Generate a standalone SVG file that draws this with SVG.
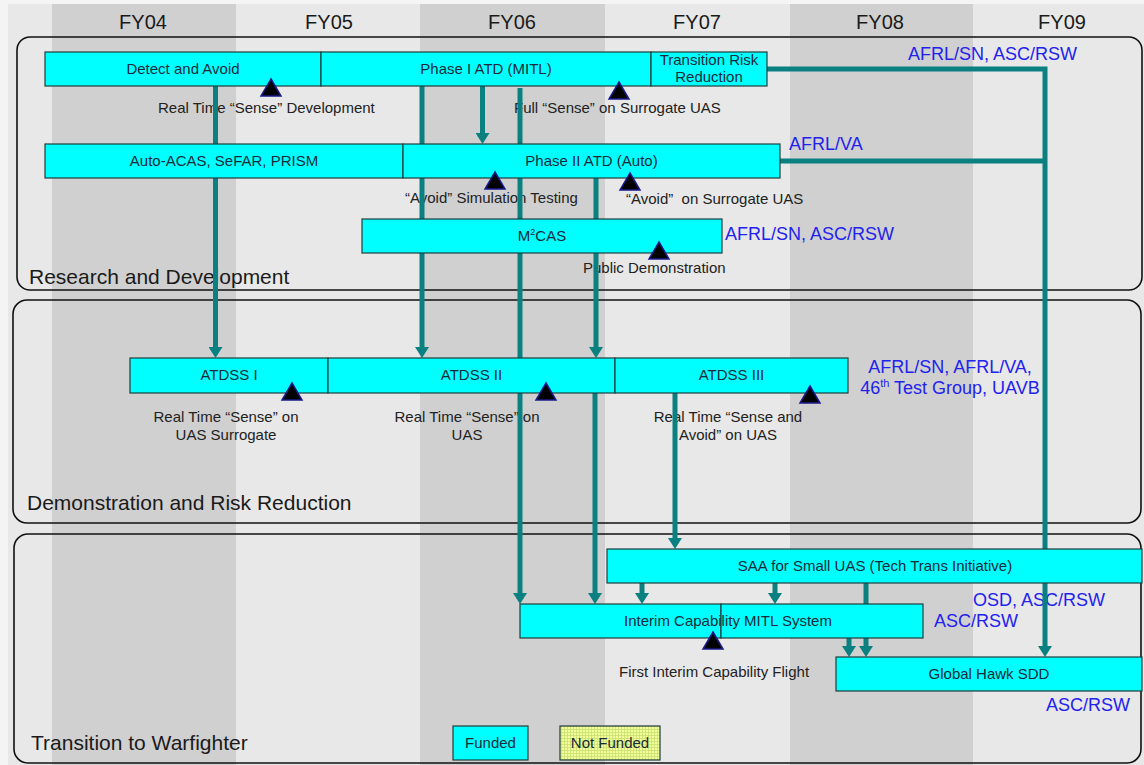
<svg xmlns="http://www.w3.org/2000/svg" width="1144" height="765" viewBox="0 0 1144 765">
<style>
text{font-family:"Liberation Sans",Arial,sans-serif}
.fy{font-size:20px;fill:#1a1a1a;text-anchor:middle}
.pl{font-size:21px;fill:#1a1a1a}
.bx{fill:#00ffff;stroke:#1e3c3c;stroke-width:1.2}
.bt{font-size:15px;fill:#1a2a3a;text-anchor:middle}
.ms{font-size:15px;fill:#222}
.msc{font-size:15px;fill:#222;text-anchor:middle}
.org{font-size:18px;fill:#2222ee}
.tri{fill:#000;stroke:#1a1a8c;stroke-width:1.5}
.pan{fill:none;stroke:#111;stroke-width:1.6}
.cn{fill:none;stroke:#0a8080;stroke-width:5}
</style>
<defs>
<marker id="ah" viewBox="0 0 11 14" refX="0" refY="7" markerWidth="11" markerHeight="14" markerUnits="userSpaceOnUse" orient="auto">
<path d="M0,0 L11,7 L0,14 z" fill="#0a8080"/>
</marker>
<pattern id="nf" width="3" height="3" patternUnits="userSpaceOnUse">
<rect width="3" height="3" fill="#f2ff9a"/>
<path d="M0,0.5 H3 M0.5,0 V3" stroke="#c8e070" stroke-width="0.8"/>
</pattern>
</defs>
<rect width="1144" height="765" fill="#f4f4f4"/>
<rect x="8" y="4" width="1136" height="761" fill="#e8e8e8"/>
<g id="stripes" fill="#d0d0d0">
<rect x="52" y="4" width="184" height="761"/>
<rect x="420" y="4" width="185" height="761"/>
<rect x="790" y="4" width="183" height="761"/>
</g>
<g id="years">
<text class="fy" x="143" y="29">FY04</text>
<text class="fy" x="329" y="29">FY05</text>
<text class="fy" x="512" y="29">FY06</text>
<text class="fy" x="697" y="29">FY07</text>
<text class="fy" x="880" y="29">FY08</text>
<text class="fy" x="1062" y="29">FY09</text>
</g>
<g id="panels">
<rect class="pan" x="17" y="37" width="1125" height="253" rx="13"/>
<rect class="pan" x="13" y="300" width="1128" height="223" rx="14"/>
<rect class="pan" x="14" y="534" width="1127" height="229" rx="14"/>
<text class="pl" x="29" y="284">Research and Development</text>
<text class="pl" x="27" y="510">Demonstration and Risk Reduction</text>
<text class="pl" x="31" y="750">Transition to Warfighter</text>
</g>
<g id="milestone-labels">
<text class="ms" x="158" y="113">Real Time “Sense” Development</text>
<text class="ms" x="514" y="113">Full “Sense” on Surrogate UAS</text>
<text class="ms" x="405" y="203">“Avoid” Simulation Testing</text>
<text class="ms" x="626" y="204" xml:space="preserve">“Avoid”  on Surrogate UAS</text>
<text class="ms" x="583" y="273">Public Demonstration</text>
<text class="msc" x="226" y="422">Real Time “Sense” on</text>
<text class="msc" x="226" y="440">UAS Surrogate</text>
<text class="msc" x="467" y="422">Real Time “Sense” on</text>
<text class="msc" x="467" y="440">UAS</text>
<text class="msc" x="728" y="422">Real Time “Sense and</text>
<text class="msc" x="728" y="440">Avoid” on UAS</text>
<text class="ms" x="619" y="677">First Interim Capability Flight</text>
</g>
<g id="org-labels">
<text class="org" x="908" y="60">AFRL/SN, ASC/RSW</text>
<text class="org" x="789" y="150">AFRL/VA</text>
<text class="org" x="725" y="240">AFRL/SN, ASC/RSW</text>
<text class="org" x="950" y="373" text-anchor="middle">AFRL/SN, AFRL/VA,</text>
<text class="org" x="950" y="394" text-anchor="middle">46<tspan font-size="11" dy="-7">th</tspan><tspan dy="7"> Test Group, UAVB</tspan></text>
<text class="org" x="973" y="606">OSD, ASC/RSW</text>
<text class="org" x="934" y="627">ASC/RSW</text>
<text class="org" x="1046" y="711">ASC/RSW</text>
</g>
<g id="connectors">
<line class="cn" x1="215.5" y1="86" x2="215.5" y2="347" marker-end="url(#ah)"/>
<line class="cn" x1="422" y1="86" x2="422" y2="347" marker-end="url(#ah)"/>
<line class="cn" x1="482.5" y1="86" x2="482.5" y2="133" marker-end="url(#ah)"/>
<line class="cn" x1="520" y1="88" x2="520" y2="593" marker-end="url(#ah)"/>
<line class="cn" x1="596" y1="178" x2="596" y2="347" marker-end="url(#ah)"/>
<line class="cn" x1="595" y1="393" x2="595" y2="593" marker-end="url(#ah)"/>
<line class="cn" x1="675" y1="393" x2="675" y2="538" marker-end="url(#ah)"/>
<line class="cn" x1="642" y1="583" x2="642" y2="593" marker-end="url(#ah)"/>
<line class="cn" x1="775" y1="583" x2="775" y2="593" marker-end="url(#ah)"/>
<line class="cn" x1="849" y1="638" x2="849" y2="646" marker-end="url(#ah)"/>
<line class="cn" x1="866" y1="583" x2="866" y2="646" marker-end="url(#ah)"/>
<path class="cn" d="M767,69 H1045 V646" marker-end="url(#ah)"/>
<path class="cn" d="M780,161 H1045"/>
</g>
<g id="detect-and-avoid">
<rect class="bx" x="45" y="52" width="276" height="34"/>
<text class="bt" x="183" y="74">Detect and Avoid</text>
</g>
<g id="phase-1-atd">
<rect class="bx" x="321" y="52" width="330" height="34"/>
<text class="bt" x="486" y="74">Phase I ATD (MITL)</text>
</g>
<g id="transition-risk-reduction">
<rect class="bx" x="651" y="52" width="116" height="34"/>
<text class="bt" x="709" y="65">Transition Risk</text>
<text class="bt" x="709" y="82">Reduction</text>
</g>
<g id="auto-acas">
<rect class="bx" x="45" y="144" width="358" height="34"/>
<text class="bt" x="224" y="166">Auto-ACAS, SeFAR, PRISM</text>
</g>
<g id="phase-2-atd">
<rect class="bx" x="403" y="144" width="377" height="34"/>
<text class="bt" x="591.5" y="166">Phase II ATD (Auto)</text>
</g>
<g id="m2cas">
<rect class="bx" x="362" y="219" width="360" height="34"/>
<text class="bt" x="542" y="241">M<tspan font-size="9" dy="-6">2</tspan><tspan dy="6">CAS</tspan></text>
</g>
<g id="atdss-1">
<rect class="bx" x="130" y="358" width="198" height="35"/>
<text class="bt" x="229" y="380">ATDSS I</text>
</g>
<g id="atdss-2">
<rect class="bx" x="328" y="358" width="287" height="35"/>
<text class="bt" x="471.5" y="380">ATDSS II</text>
</g>
<g id="atdss-3">
<rect class="bx" x="615" y="358" width="233" height="35"/>
<text class="bt" x="731.5" y="380">ATDSS III</text>
</g>
<g id="saa-small-uas">
<rect class="bx" x="607" y="549" width="535" height="34"/>
<text class="bt" x="875" y="571">SAA for Small UAS (Tech Trans Initiative)</text>
</g>
<g id="interim-capability">
<rect class="bx" x="520" y="604" width="201" height="34"/>
<rect class="bx" x="721" y="604" width="202" height="34"/>
<text class="bt" x="728" y="626">Interim Capability MITL System</text>
</g>
<g id="global-hawk-sdd">
<rect class="bx" x="836" y="657" width="306" height="34"/>
<text class="bt" x="989" y="679">Global Hawk SDD</text>
</g>
<g id="legend">
<rect class="bx" x="453" y="726" width="75" height="34"/>
<text class="bt" x="490.5" y="748">Funded</text>
<rect x="560" y="726" width="100" height="34" fill="url(#nf)" stroke="#1e3c3c" stroke-width="1.2"/>
<text class="bt" x="610" y="748">Not Funded</text>
</g>
<g id="milestones">
<path class="tri" d="M271,79 L281,96 L261,96 z"/>
<path class="tri" d="M619,82 L629,99 L609,99 z"/>
<path class="tri" d="M495,172 L505,189 L485,189 z"/>
<path class="tri" d="M630,173 L640,190 L620,190 z"/>
<path class="tri" d="M659,242 L669,259 L649,259 z"/>
<path class="tri" d="M292,383 L302,400 L282,400 z"/>
<path class="tri" d="M546,383 L556,400 L536,400 z"/>
<path class="tri" d="M810,386 L820,403 L800,403 z"/>
<path class="tri" d="M713,632 L723,649 L703,649 z"/>
</g>
</svg>
